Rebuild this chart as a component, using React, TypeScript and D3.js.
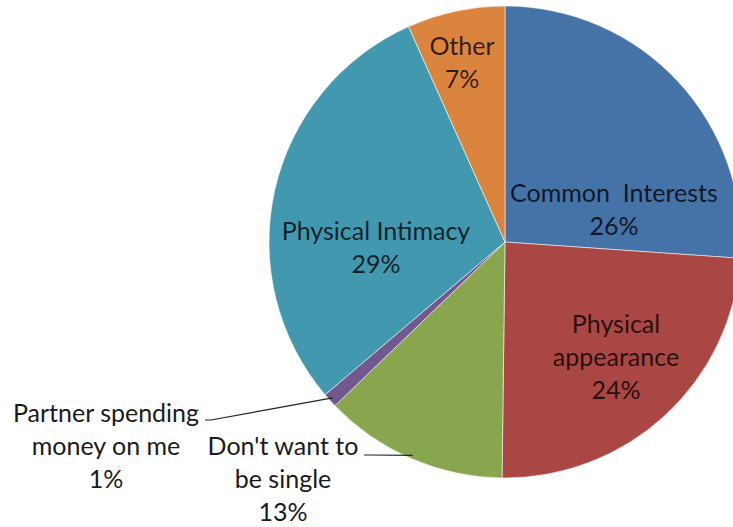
import React, { useEffect, useRef } from "react";
import * as d3 from "d3";

const categories = [
  "Common Interests",
  "Physical appearance",
  "Don't want to be single",
  "Partner spending money on me",
  "Physical Intimacy",
  "Other",
];
const values = [26.1, 24.1, 12.6, 1.0, 29.5, 6.7];
const percentLabels = ["26%", "24%", "13%", "1%", "29%", "7%"];
const labelLines = [
  ["Common  Interests"],
  ["Physical", "appearance"],
  ["Don't want to", "be single"],
  ["Partner spending", "money on me"],
  ["Physical Intimacy"],
  ["Other"],
];
const colors = ["#4572A7", "#AA4643", "#89A54E", "#71588F", "#4198AF", "#DB843D"];

const W = 733;
const H = 527;

// layout: label anchor (center x, first baseline y), inside flag, leader anchor
const layout = [
  { x: 614, y: 202, inside: true },
  { x: 616, y: 333, inside: true },
  { x: 283, y: 455, inside: false, lx: 364, ly: 455, r: 0.985 },
  { x: 106, y: 422, inside: false, lx: 205, ly: 420, r: 0.985 },
  { x: 376, y: 240, inside: true },
  { x: 462, y: 55, inside: true },
];

export default function App() {
  const ref = useRef<SVGSVGElement>(null);
  useEffect(() => {
    const svg = d3.select(ref.current);
    svg.selectAll("*").remove();
    const cx = 505, cy = 242, R = 236;
    const lineH = 33;
    const g = svg.append("g").attr("transform", `translate(${cx},${cy})`);
    const pie = d3.pie<number>().sort(null).value((d) => d);
    const arcs = pie(values);
    const arc = d3.arc<d3.PieArcDatum<number>>().innerRadius(0).outerRadius(R);
    g.selectAll("path.slice")
      .data(arcs)
      .enter()
      .append("path")
      .attr("class", "slice")
      .attr("d", arc as any)
      .attr("fill", (_, i) => colors[i])
      .attr("stroke", "rgba(255,255,255,0.55)")
      .attr("stroke-width", 1);

    const font = "Lato, 'Open Sans', sans-serif";
    const fs = 25;
    arcs.forEach((a, i) => {
      const L = layout[i];
      const lines = [...labelLines[i], percentLabels[i]];
      const t = svg
        .append("text")
        .attr("text-anchor", "middle")
        .attr("font-family", font)
        .attr("font-size", fs)
        .attr("fill", L.inside ? "#000" : "#1a1a1a")
        .attr("fill-opacity", L.inside ? 0.78 : 1);
      lines.forEach((s, k) => {
        t.append("tspan")
          .attr("x", L.x)
          .attr("y", L.y + k * lineH)
          .style("white-space", "pre")
          .text(s);
      });
      if (!L.inside) {
        const mid = (a.startAngle + a.endAngle) / 2;
        const rr = R * (L.r as number);
        const px = cx + rr * Math.sin(mid);
        const py = cy - rr * Math.cos(mid);
        const path = d3.path();
        path.moveTo(L.lx as number, L.ly as number);
        path.lineTo((L.lx as number) + 6, L.ly as number);
        path.lineTo(px, py);
        svg
          .append("path")
          .attr("d", path.toString())
          .attr("fill", "none")
          .attr("stroke", "#222")
          .attr("stroke-width", 1.2);
      }
    });
  }, []);
  return (
    <svg
      ref={ref}
      width={W}
      height={H}
      style={{ position: "absolute", left: 0, top: 0, background: "#fff" }}
    />
  );
}
